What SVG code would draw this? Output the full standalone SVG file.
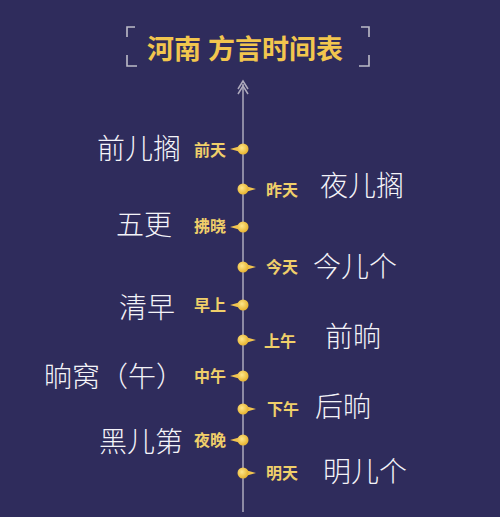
<svg xmlns="http://www.w3.org/2000/svg" width="500" height="517" viewBox="0 0 500 517">
<style>
.big{font-family:"Noto Sans CJK SC","Noto Sans",sans-serif;font-size:28px;fill:#f4f3f8;font-weight:300;dominant-baseline:central}
.sm{font-family:"Noto Sans CJK SC","Noto Sans",sans-serif;font-size:16px;fill:#f0cf6a;font-weight:700;dominant-baseline:central}
.l{text-anchor:end}
.title{font-family:"Noto Sans CJK SC","Noto Sans",sans-serif;font-size:27px;font-weight:700;fill:#f2c64e;dominant-baseline:central}
.br{fill:none;stroke:#bdbcc8;stroke-width:1.6}
.axis{stroke:#aeaabc;stroke-width:1.5;fill:none}
</style>
<defs>
<radialGradient id="g" cx="0.4" cy="0.4" r="0.6">
<stop offset="0" stop-color="#fde68a"/><stop offset="1" stop-color="#e8b430"/>
</radialGradient>
<g id="dl"><path d="M-13,0 L-3,-2.8 L-3,2.8 Z" fill="#f2c450"/><circle r="5.5" fill="url(#g)"/></g>
<g id="dr"><path d="M13,0 L3,-2.8 L3,2.8 Z" fill="#f2c450"/><circle r="5.5" fill="url(#g)"/></g>
</defs>
<rect width="500" height="517" fill="#2f2c5c"/>
<g id="title">
<path class="br" d="M135,27 H127 V37 M127,55 V66 H137 M361,27 H369 V37 M369,55 V66 H359"/>
<text class="title" x="147" y="47">河南<tspan x="208">方言时间表</tspan></text>
</g>
<g id="connectors">
<path class="axis" d="M243,84 V512"/>
<path class="axis" d="M238,89 L243,81 L248,89 M238,94 L243,86 L248,94"/>
</g>
<g id="n1"><use href="#dl" x="243" y="149"/><text class="sm l" x="226" y="149">前天</text><text class="big l" x="181" y="147">前儿搁</text></g>
<g id="n2"><use href="#dr" x="243" y="189"/><text class="sm" x="266" y="189">昨天</text><text class="big" x="320" y="184">夜儿搁</text></g>
<g id="n3"><use href="#dl" x="243" y="227"/><text class="sm l" x="226" y="225">拂晓</text><text class="big l" x="172" y="223">五更</text></g>
<g id="n4"><use href="#dr" x="243" y="267"/><text class="sm" x="266" y="266">今天</text><text class="big" x="313" y="265">今儿个</text></g>
<g id="n5"><use href="#dl" x="243" y="305"/><text class="sm l" x="226" y="304">早上</text><text class="big l" x="175" y="306">清早</text></g>
<g id="n6"><use href="#dr" x="243" y="340"/><text class="sm" x="264" y="340">上午</text><text class="big" x="325" y="335">前晌</text></g>
<g id="n7"><use href="#dl" x="243" y="376"/><text class="sm l" x="226" y="375">中午</text><text class="big l" x="184" y="375">晌窝（午）</text></g>
<g id="n8"><use href="#dr" x="243" y="409"/><text class="sm" x="267" y="408">下午</text><text class="big" x="315" y="405">后晌</text></g>
<g id="n9"><use href="#dl" x="243" y="440"/><text class="sm l" x="226" y="439">夜晚</text><text class="big l" x="183" y="440">黑儿第</text></g>
<g id="n10"><use href="#dr" x="243" y="473"/><text class="sm" x="266" y="472">明天</text><text class="big" x="323" y="470">明儿个</text></g>
</svg>
